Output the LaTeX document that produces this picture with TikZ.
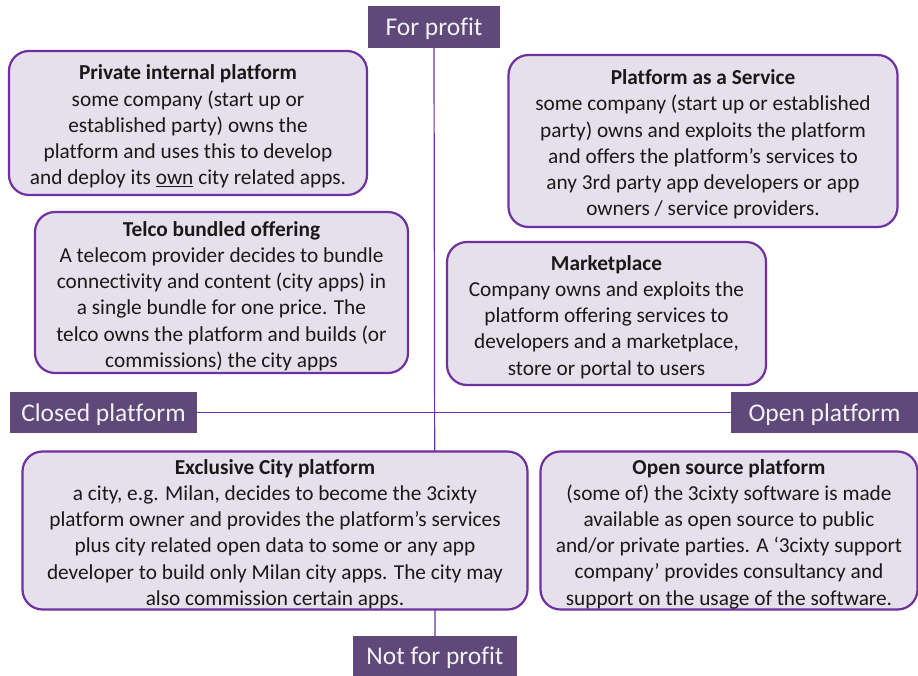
\documentclass[tikz,border=0pt]{standalone}
\usepackage{fontspec}
\setmainfont[Ligatures={NoCommon}]{Carlito}
\definecolor{lblfill}{HTML}{5F497A}
\definecolor{lbltext}{HTML}{F2F2F2}
\definecolor{boxfill}{HTML}{E5E0EC}
\definecolor{boxline}{HTML}{7030A0}
\tikzset{
  axislabel/.style={fill=lblfill, text=lbltext, inner sep=0pt, text height=17pt, text depth=0pt, font=\fontsize{25.5}{30}\selectfont},
  axisline/.style={draw=boxline, line width=1.2pt},
  quadbox/.style={draw=boxline, fill=boxfill, line width=2.2pt, rounded corners=20pt, inner sep=0pt},
  quadtext/.style={inner sep=0pt, align=center, text=black!90, yshift=-3.5pt, font=\fontsize{21.3}{26.2}\selectfont}
}
\begin{document}
\begin{tikzpicture}[x=1pt,y=-1pt]
\useasboundingbox (0,0) rectangle (918,675);
% axis labels
\node[axislabel, minimum width=132pt, minimum height=42pt] (forprofit) at (434,27) {For profit};
\node[axislabel, minimum width=164pt, minimum height=40pt] (notprofit) at (435,656) {Not for profit};
\node[axislabel, minimum width=187pt, minimum height=41pt] (closed) at (103.5,412.5) {Closed platform};
\node[axislabel, minimum width=187pt, minimum height=41pt] (open) at (824.5,412.5) {Open platform};
% axes
\draw[axisline] (forprofit.south) -- (notprofit.north);
\draw[axisline] (closed.east) -- (open.west);
% quadrant boxes
\node[quadbox, minimum width=358pt, minimum height=144pt] (private) at (188,123) {};
\node[quadtext] (privatetext) at (private.center)
 {\textbf{Private internal platform}\\some company (start up or\\established party) owns the\\platform and uses this to develop\\and deploy its \underline{own} city related apps.};
\node[quadbox, minimum width=389pt, minimum height=172pt] (paas) at (703,141) {};
\node[quadtext] (paastext) at (paas.center)
 {\textbf{Platform as a Service}\\some company (start up or established\\party) owns and exploits the platform\\and offers the platform’s services to\\any 3rd party app developers or app\\owners / service providers.};
\node[quadbox, minimum width=373pt, minimum height=161pt] (telco) at (221.5,292.5) {};
\node[quadtext] (telcotext) at (telco.center)
 {\textbf{Telco bundled offering}\\A telecom provider decides to bundle\\connectivity and content (city apps) in\\a single bundle for one price. The\\telco owns the platform and builds (or\\commissions) the city apps};
\node[quadbox, minimum width=319pt, minimum height=143pt] (market) at (606.5,313.5) {};
\node[quadtext] (markettext) at (market.center)
 {\textbf{Marketplace}\\Company owns and exploits the\\platform offering services to\\developers and a marketplace,\\store or portal to users};
\node[quadbox, minimum width=505pt, minimum height=158pt] (exclusive) at (275,530.5) {};
\node[quadtext] (exclusivetext) at (exclusive.center)
 {\textbf{Exclusive City platform}\\a city, e.g. Milan, decides to become the 3cixty\\platform owner and provides the platform’s services\\plus city related open data to some or any app\\developer to build only Milan city apps. The city may\\also commission certain apps.};
\node[quadbox, minimum width=377pt, minimum height=158pt] (opensource) at (729,530.5) {};
\node[quadtext] (opensourcetext) at (opensource.center)
 {\textbf{Open source platform}\\(some of) the 3cixty software is made\\available as open source to public\\and/or private parties. A ‘3cixty support\\company’ provides consultancy and\\support on the usage of the software.};
\end{tikzpicture}
\end{document}
